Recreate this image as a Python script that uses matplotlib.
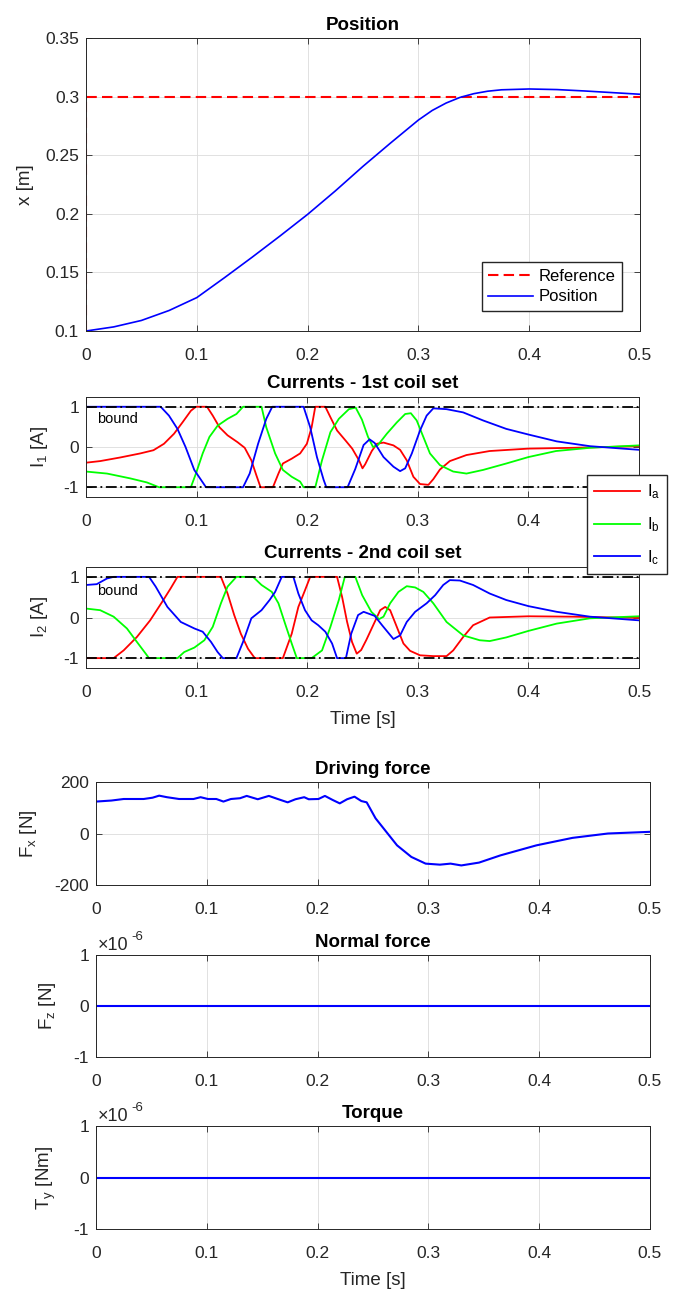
import numpy as np
import matplotlib
matplotlib.use('Agg')
import matplotlib.pyplot as plt
from matplotlib.ticker import FormatStrFormatter

plt.rcParams['font.family'] = ['Liberation Sans', 'DejaVu Sans']
plt.rcParams['mathtext.fontset'] = 'custom'
plt.rcParams['mathtext.rm'] = 'Liberation Sans'
plt.rcParams['mathtext.it'] = 'Liberation Sans:italic'
plt.rcParams['axes.unicode_minus'] = False
plt.rcParams['lines.solid_joinstyle'] = 'round'

# ---- data ----
ref_t = [0, 0, 0.5]
ref_x = [0.1, 0.3, 0.3]

pos_t = [0, 0.025, 0.05, 0.075, 0.1, 0.125, 0.15, 0.175, 0.2, 0.225, 0.25, 0.275,
         0.3, 0.3125, 0.325, 0.3375, 0.35, 0.3625, 0.375, 0.4, 0.425, 0.45, 0.475, 0.5]
pos_x = [0.1, 0.1035, 0.109, 0.1175, 0.1285, 0.1455, 0.163, 0.181, 0.1995, 0.2195, 0.2405, 0.2605,
         0.2800, 0.2882, 0.2945, 0.2993, 0.3025, 0.3046, 0.3058, 0.3065, 0.3060, 0.3048, 0.3034, 0.302]

# currents, 1st coil set
ia1_t = [0, 0.0128, 0.031, 0.049, 0.061, 0.0705, 0.0796, 0.0872, 0.0948, 0.0994, 0.1094, 0.1146,
         0.1207, 0.128, 0.137, 0.1435, 0.1495, 0.154, 0.1578, 0.169, 0.174, 0.178, 0.186, 0.1936,
         0.1997, 0.204, 0.2073, 0.2164, 0.221, 0.227, 0.2347, 0.2407, 0.2468, 0.250, 0.2524, 0.2584,
         0.263, 0.269, 0.278, 0.284, 0.290, 0.296, 0.302, 0.3096, 0.314, 0.320, 0.329, 0.344, 0.365,
         0.400, 0.4407, 0.5]
ia1 = [-0.39, -0.35, -0.26, -0.16, -0.08, 0.08, 0.33, 0.61, 0.90, 1.0, 1.0, 0.78,
       0.49, 0.29, 0.12, -0.02, -0.33, -0.70, -1.0, -1.0, -0.66, -0.41, -0.29, -0.16,
       0.08, 0.49, 1.0, 1.0, 0.74, 0.41, 0.16, -0.04, -0.33, -0.53, -0.43, -0.10,
       0.08, 0.11, 0.04, -0.07, -0.33, -0.74, -0.92, -0.94, -0.80, -0.56, -0.35, -0.20, -0.10,
       -0.04, -0.02, 0.02]

ib1_t = [0, 0.019, 0.040, 0.055, 0.066, 0.0948, 0.0994, 0.1055, 0.1116, 0.119, 0.128, 0.136,
         0.142, 0.1587, 0.163, 0.171, 0.178, 0.186, 0.1936, 0.1967, 0.2073, 0.2134, 0.221, 0.2286,
         0.2377, 0.2438, 0.2495, 0.255, 0.2595, 0.264, 0.272, 0.281, 0.2886, 0.2937, 0.299, 0.305,
         0.311, 0.320, 0.332, 0.344, 0.359, 0.380, 0.400, 0.425, 0.4557, 0.5]
ib1 = [-0.61, -0.66, -0.78, -0.88, -1.0, -1.0, -0.66, -0.16, 0.25, 0.53, 0.70, 0.82,
       1.0, 1.0, 0.49, -0.16, -0.57, -0.74, -0.86, -1.0, -1.0, -0.33, 0.37, 0.70,
       0.94, 0.98, 0.68, 0.25, 0.0, 0.05, 0.33, 0.61, 0.82, 0.84, 0.66, 0.25,
       -0.16, -0.45, -0.61, -0.66, -0.57, -0.41, -0.25, -0.10, -0.02, 0.04]

ic1_t = [0, 0.0675, 0.075, 0.0827, 0.090, 0.0979, 0.1085, 0.142, 0.148, 0.1556, 0.163, 0.1684,
         0.1967, 0.2027, 0.2088, 0.2149, 0.2173, 0.2365, 0.2434, 0.251, 0.2564, 0.261, 0.269,
         0.278, 0.284, 0.2886, 0.2946, 0.302, 0.308, 0.314, 0.326, 0.341, 0.359, 0.380, 0.400,
         0.4256, 0.4557, 0.5]
ic1 = [1.0, 1.0, 0.78, 0.45, 0.0, -0.57, -1.0, -1.0, -0.66, 0.08, 0.70, 1.0,
       1.0, 0.49, -0.25, -0.82, -1.0, -1.0, -0.55, 0.05, 0.19, 0.10, -0.25,
       -0.49, -0.60, -0.53, -0.16, 0.41, 0.78, 0.96, 0.94, 0.86, 0.66, 0.45, 0.31,
       0.14, 0.02, -0.07]

# currents, 2nd coil set
ia2_t = [0, 0.025, 0.034, 0.046, 0.058, 0.069, 0.0766, 0.0827, 0.122, 0.128, 0.134, 0.140,
         0.1465, 0.1526, 0.178, 0.186, 0.192, 0.198, 0.2027, 0.227, 0.2316, 0.236, 0.2405,
         0.2448, 0.2488, 0.2535, 0.2595, 0.266, 0.2705, 0.275, 0.281, 0.287, 0.293, 0.302,
         0.314, 0.326, 0.332, 0.341, 0.350, 0.365, 0.400, 0.4407, 0.5]
ia2 = [-1, -1, -0.81, -0.48, -0.07, 0.39, 0.72, 1, 1, 0.59, 0.06, -0.40,
       -0.77, -1, -1, -0.40, 0.26, 0.67, 1, 1, 0.5, -0.1, -0.6,
       -0.89, -0.8, -0.55, -0.2, 0.18, 0.26, 0.18, -0.23, -0.64, -0.82, -0.93,
       -0.95, -0.95, -0.81, -0.48, -0.19, 0.0, 0.03, 0.02, -0.01]

ib2_t = [0, 0.0128, 0.025, 0.037, 0.046, 0.054, 0.057, 0.0827, 0.0888, 0.098, 0.107, 0.1146,
         0.122, 0.128, 0.136, 0.151, 0.1587, 0.168, 0.174, 0.180, 0.186, 0.1906, 0.204, 0.2134,
         0.221, 0.2286, 0.234, 0.2435, 0.2497, 0.258, 0.265, 0.269, 0.275, 0.2825, 0.290, 0.2976,
         0.305, 0.314, 0.326, 0.341, 0.356, 0.365, 0.380, 0.400, 0.4256, 0.4557, 0.5]
ib2 = [0.22, 0.18, 0.02, -0.27, -0.60, -0.89, -1, -1, -0.85, -0.74, -0.56, -0.23,
       0.35, 0.76, 1, 1, 0.80, 0.63, 0.35, -0.15, -0.64, -1, -1, -0.81,
       -0.23, 0.43, 1, 1, 0.55, 0.14, -0.04, 0.02, 0.35, 0.63, 0.77, 0.74,
       0.63, 0.35, -0.11, -0.44, -0.56, -0.58, -0.49, -0.33, -0.15, -0.02, 0.03]

ic2_t = [0, 0.0097, 0.019, 0.025, 0.057, 0.063, 0.0736, 0.0857, 0.098, 0.1055, 0.113, 0.119,
         0.1237, 0.136, 0.142, 0.1495, 0.1587, 0.166, 0.171, 0.177, 0.1875, 0.192, 0.198, 0.204,
         0.210, 0.2164, 0.2225, 0.227, 0.235, 0.2398, 0.246, 0.251, 0.261, 0.268, 0.278, 0.284,
         0.290, 0.2976, 0.308, 0.3157, 0.323, 0.329, 0.338, 0.350, 0.365, 0.380, 0.400, 0.4256,
         0.4557, 0.5]
ic2 = [0.80, 0.82, 0.96, 1, 1, 0.76, 0.26, -0.11, -0.27, -0.35, -0.60, -0.85,
       -1, -1, -0.60, -0.02, 0.18, 0.43, 0.63, 1, 1, 0.59, 0.18, -0.07,
       -0.19, -0.35, -0.64, -1, -1, -0.4, 0.06, 0.14, 0.04, -0.2, -0.53, -0.44,
       -0.11, 0.14, 0.35, 0.55, 0.80, 0.92, 0.91, 0.80, 0.59, 0.43, 0.28, 0.14,
       0.02, -0.07]

# driving force
fx_t = [0, 0.0139, 0.025, 0.043, 0.051, 0.057, 0.064, 0.075, 0.088, 0.0944, 0.101, 0.1086,
        0.115, 0.1218, 0.130, 0.136, 0.146, 0.156, 0.164, 0.173, 0.180, 0.1879, 0.192, 0.2008,
        0.2066, 0.2137, 0.220, 0.2266, 0.2333, 0.2395, 0.2443, 0.2523, 0.262, 0.2717, 0.2846,
        0.2975, 0.3104, 0.32, 0.3297, 0.3457, 0.365, 0.3975, 0.430, 0.4621, 0.5]
fx = [124, 128, 134, 134, 139, 147, 141, 134, 134, 141, 134, 134,
      124, 134, 137, 146, 133, 146, 134, 121, 133, 141, 133, 134,
      146, 130, 117, 133, 143, 126, 121, 59, 6.5, -46, -91,
      -117, -121, -117, -124, -113, -85, -46, -17, 0, 6.5]

fz_t = [0, 0.5]
fz = [0, 0]
ty_t = [0, 0.5]
ty = [0, 0]

bound_t = [0, 0.5]
bound_hi = [1, 1]
bound_lo = [-1, -1]

# ---- layout ----
W, H = 676, 1292
fig = plt.figure(figsize=(W / 100, H / 100), dpi=100)


def px_axes(left, top, right, bottom):
    return fig.add_axes([left / W, 1 - bottom / H, (right - left) / W, (bottom - top) / H])


dark = '#262626'


def style(ax, title):
    ax.grid(True, color='#dcdcdc', lw=0.6)
    ax.set_axisbelow(True)
    for s in ax.spines.values():
        s.set_color(dark)
        s.set_linewidth(0.7)
    ax.tick_params(direction='in', length=4, width=0.6, top=True, right=True,
                   colors=dark, labelsize=12.5)
    ax.tick_params(axis='x', pad=12)
    ax.tick_params(axis='y', pad=5)
    ax.set_xlim(0, 0.5)
    ax.set_xticks([0, 0.1, 0.2, 0.3, 0.4, 0.5])
    ax.xaxis.set_major_formatter(FormatStrFormatter('%g'))
    ax.set_title(title, fontsize=13.5, fontweight='bold', pad=6)


ax1 = px_axes(86, 38, 640, 331)
ax2 = px_axes(86, 396.7, 639, 497.3)
ax3 = px_axes(86, 566.7, 639, 668.3)
ax4 = px_axes(96, 782, 650, 885)
ax5 = px_axes(96, 955, 650, 1057)
ax6 = px_axes(96, 1126, 650, 1229)

# position
style(ax1, 'Position')
ax1.plot(ref_t, ref_x, color='#ff0000', lw=1.5, ls=(0, (5, 2.5)), label='Reference')
ax1.plot(pos_t, pos_x, color='#0000ff', lw=1.2, label='Position')
ax1.set_ylim(0.1, 0.35)
ax1.set_yticks([0.1, 0.15, 0.2, 0.25, 0.3, 0.35])
ax1.yaxis.set_major_formatter(FormatStrFormatter('%g'))
ax1.set_ylabel('x [m]', fontsize=13.5, labelpad=8, color=dark)
ax1.legend(loc='lower right', bbox_to_anchor=(0.9675, 0.068), borderaxespad=0,
           fontsize=12, handlelength=2.7, handletextpad=0.3, labelspacing=0.35,
           fancybox=False, framealpha=1, edgecolor=dark)

dashdot = (0, (6, 2, 1, 2))

# currents
handles = []
for ax, title, ylab, series, bound_y in [
        (ax2, 'Currents - 1st coil set', r'I$_{\rm 1}$ [A]',
         [(ia1_t, ia1), (ib1_t, ib1), (ic1_t, ic1)], 0.59),
        (ax3, 'Currents - 2nd coil set', r'I$_{\rm 2}$ [A]',
         [(ia2_t, ia2), (ib2_t, ib2), (ic2_t, ic2)], 0.55)]:
    style(ax, title)
    hs = []
    for (t, v), c, lab in zip(series, ['#ff0000', '#00ff00', '#0000ff'],
                              [r'I$_{\rm a}$', r'I$_{\rm b}$', r'I$_{\rm c}$']):
        h, = ax.plot(t, v, color=c, lw=1.3, label=lab)
        hs.append(h)
    if not handles:
        handles = hs
    ax.plot(bound_t, bound_hi, color='black', lw=1.3, ls=dashdot)
    ax.plot(bound_t, bound_lo, color='black', lw=1.3, ls=dashdot)
    ax.text(0.01, bound_y, 'bound', fontsize=10.5, va='baseline', ha='left')
    ax.set_ylim(-1.25, 1.25)
    ax.set_yticks([-1, 0, 1])
    ax.set_ylabel(ylab, fontsize=13.5, labelpad=10, color=dark)
ax3.set_xlabel('Time [s]', fontsize=13.5, labelpad=8, color=dark)

fig.legend(handles=handles, loc='upper left', bbox_to_anchor=(586.7 / W, 1 - 475 / H),
           borderaxespad=0, fontsize=12, handlelength=2.75, handletextpad=0.4,
           labelspacing=0.85, borderpad=0.45, fancybox=False, framealpha=1,
           edgecolor=dark)

# forces
style(ax4, 'Driving force')
ax4.plot(fx_t, fx, color='#0000ff', lw=1.5)
ax4.set_ylim(-200, 200)
ax4.set_yticks([-200, 0, 200])
ax4.set_ylabel(r'F$_{\rm x}$ [N]', fontsize=13.5, labelpad=11, color=dark)

for ax, title, t, v, ylab in [(ax5, 'Normal force', fz_t, fz, r'F$_{\rm z}$ [N]'),
                              (ax6, 'Torque', ty_t, ty, r'T$_{\rm y}$ [Nm]')]:
    style(ax, title)
    ax.plot(t, v, color='#0000ff', lw=1.5)
    ax.set_ylim(-1e-6, 1e-6)
    ax.set_yticks([-1e-6, 0, 1e-6])
    ax.set_yticklabels(['-1', '0', '1'])
    ax.set_ylabel(ylab, fontsize=13.5, labelpad=11, color=dark)
    ax.annotate('\u00d710', xy=(0, 1), xycoords='axes fraction', xytext=(1.5, 3.6),
                textcoords='offset points', fontsize=13, va='baseline', ha='left', color=dark)
    ax.annotate('-6', xy=(0, 1), xycoords='axes fraction', xytext=(25.5, 10.8),
                textcoords='offset points', fontsize=9.5, va='baseline', ha='left', color=dark)
ax6.set_xlabel('Time [s]', fontsize=13.5, labelpad=8, color=dark)

fig.savefig('out.png', dpi=100, facecolor='white')
